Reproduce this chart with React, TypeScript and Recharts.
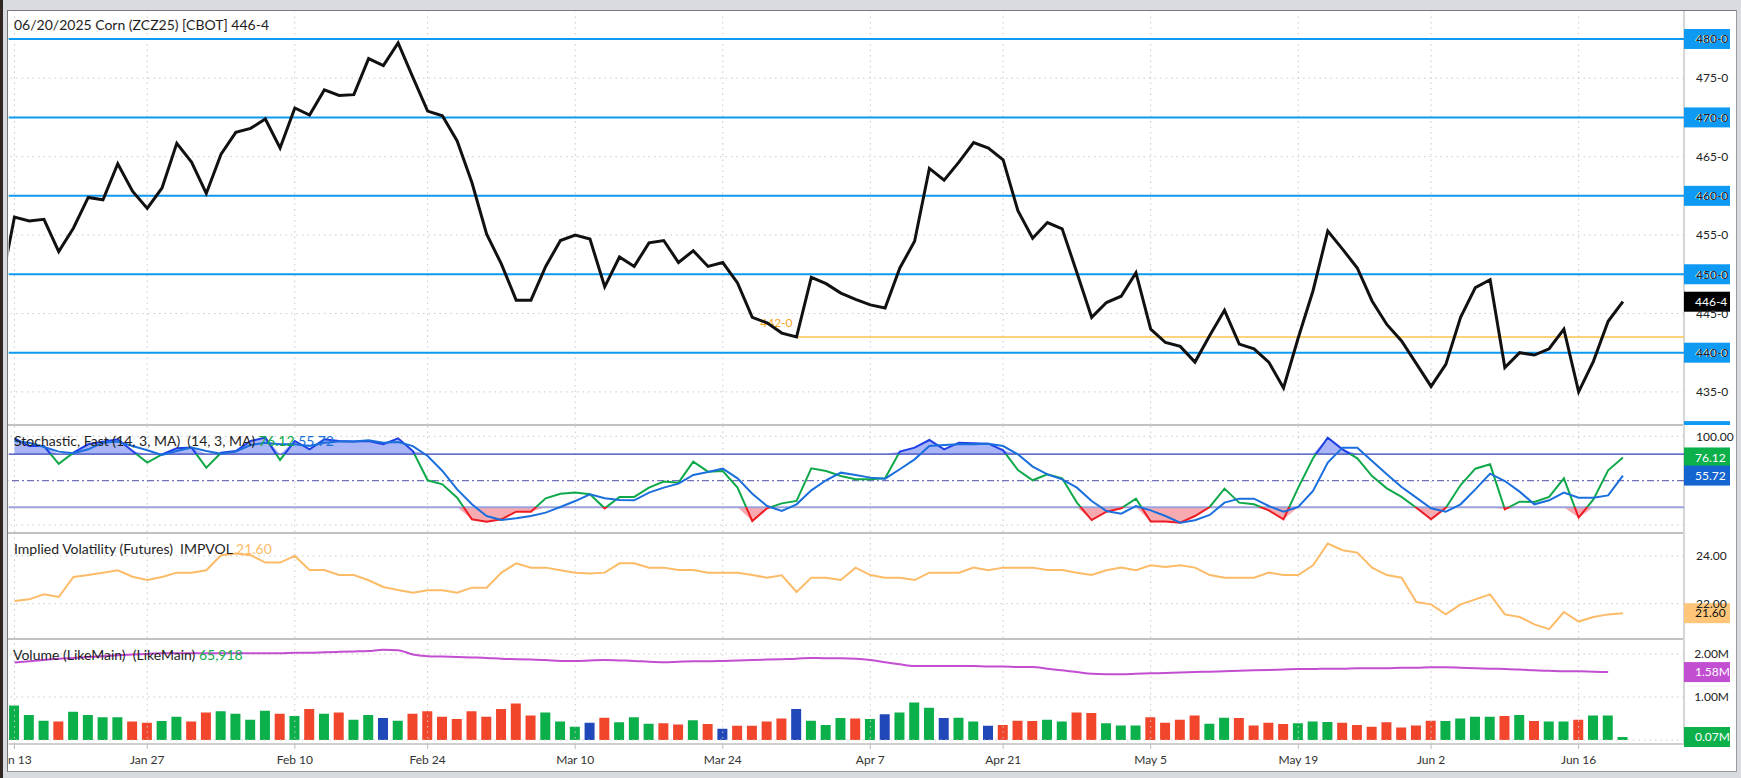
import React from 'react';
import { ComposedChart, Line, Area, Bar, Cell, XAxis, YAxis, ReferenceLine } from 'recharts';

// trading-day index of each date label on the time axis
const TICK_IDX = [0, 9, 19, 28, 38, 48, 58, 67, 77, 87, 96, 106];
const TICK_LABELS = ['Jan 13', 'Jan 27', 'Feb 10', 'Feb 24', 'Mar 10', 'Mar 24', 'Apr 7', 'Apr 21', 'May 5', 'May 19', 'Jun 2', 'Jun 16'];

// close of the session before the first visible day (line enters from the left edge)
const PREV_CLOSE = 447.6;

const CLOSE = [
  457.3, 456.8, 457.0, 452.9, 455.9, 459.8, 459.5, 464.1, 460.6, 458.4,
  461.0, 466.7, 464.3, 460.3, 465.3, 468.1, 468.6, 469.8, 466.1, 471.2,
  470.3, 473.5, 472.8, 472.9, 477.5, 476.6, 479.5, 475.1, 470.8, 470.2,
  467.0, 461.7, 455.1, 451.3, 446.7, 446.7, 451.0, 454.3, 455.0, 454.5,
  448.4, 452.2, 451.0, 454.0, 454.3, 451.5, 453.0, 451.0, 451.5, 448.9,
  444.5, 443.8, 442.5, 442.0, 449.6, 448.8, 447.6, 446.8, 446.1, 445.7,
  450.8, 454.2, 463.5, 462.0, 464.3, 466.8, 466.1, 464.6, 458.1, 454.6,
  456.6, 455.8, 450.2, 444.5, 446.4, 447.2, 450.2, 443.0, 441.3, 440.8,
  438.8, 442.2, 445.4, 441.1, 440.5, 438.8, 435.5, 441.9, 447.9, 455.5,
  453.2, 450.8, 446.6, 443.6, 441.5, 438.6, 435.7, 438.5, 444.5, 448.3,
  449.3, 438.1, 440.0, 439.7, 440.5, 443.0, 435.0, 438.9, 444.0, 446.5,
];

const STOCH_K = [
  97.7, 89, 89, 69, 81.5, 91, 94, 96.6, 83.4, 70.3,
  79.7, 86.4, 87.2, 64.6, 81.5, 83.4, 94.7, 98.5, 73.3, 94.7,
  85.3, 96.6, 94.7, 94, 94.7, 91, 97.7, 83.4, 50.4, 45.8,
  30.8, 6.4, 3.8, 6.4, 15, 15, 30, 35.3, 36.5, 34.6,
  18.8, 31.6, 31.6, 42.1, 48.9, 47.7, 71.4, 60.1, 60.9, 42.1,
  4.5, 18.8, 24.4, 27.1, 63.9, 60.9, 55.2, 51.5, 51.5, 52.6,
  82.7, 87.2, 95.8, 85.3, 92.8, 92.1, 91.7, 84.2, 62, 50.4,
  57.1, 52.6, 25.2, 5.6, 15, 18.8, 29.7, 3.8, 3.8, 2.6,
  10.1, 20.3, 41, 25.2, 23.3, 16.5, 6.4, 42.1, 75.2, 98.5,
  85.3, 75.2, 55.2, 41.3, 31.6, 19.5, 6.4, 19.5, 45.1, 63.5,
  68.4, 17.7, 26.3, 25.9, 31.6, 52.6, 8.3, 28.9, 61.6, 76.12,
];

const STOCH_D = [
  94.7, 92.8, 88, 82.7, 80.8, 85.3, 92.8, 94, 89, 84.2,
  78.9, 83.4, 87.2, 83.4, 80.4, 82.7, 90.2, 92.8, 91, 91,
  89, 92.8, 94, 94, 95.5, 92.8, 93.6, 89, 77.8, 60.9,
  40.2, 23.3, 10.1, 5.6, 7.5, 10.1, 13.9, 20.3, 27, 34.6,
  30.1, 28.2, 27.8, 36.5, 42.1, 46.6, 56.4, 59.8, 63.5, 52.6,
  35.3, 21.4, 15.8, 23.3, 39.1, 50.4, 59, 56.4, 53.4, 52.2,
  62.8, 74, 89, 90.2, 90.9, 90.9, 91.7, 89, 79.7, 65.8,
  57.1, 51.5, 42.1, 27.1, 15.8, 12.8, 21.4, 16.5, 10.1, 2.6,
  5.3, 11.3, 25.2, 29.7, 29.7, 21.4, 15, 20.3, 38.3, 70.3,
  87.2, 87.2, 72.2, 57.1, 42.8, 30.8, 18.8, 15, 23.3, 40.2,
  57.9, 49.6, 37.6, 23.3, 27.8, 36.5, 30.8, 30.8, 33.4, 55.72,
];

const IMPVOL = [
  22.11, 22.18, 22.39, 22.28, 23.12, 23.2, 23.3, 23.4, 23.13, 22.99,
  23.12, 23.3, 23.3, 23.4, 24.03, 24.1, 24.03, 23.72, 23.72, 24.0,
  23.41, 23.41, 23.2, 23.2, 22.98, 22.7, 22.57, 22.46, 22.56, 22.56,
  22.46, 22.67, 22.67, 23.3, 23.69, 23.51, 23.51, 23.4, 23.3, 23.26,
  23.3, 23.69, 23.69, 23.51, 23.51, 23.41, 23.41, 23.3, 23.3, 23.3,
  23.2, 23.09, 23.19, 22.49, 23.09, 23.09, 22.99, 23.51, 23.2, 23.09,
  23.09, 22.99, 23.3, 23.3, 23.3, 23.51, 23.4, 23.51, 23.51, 23.51,
  23.41, 23.41, 23.3, 23.2, 23.4, 23.51, 23.4, 23.61, 23.54, 23.61,
  23.51, 23.2, 23.09, 23.09, 23.09, 23.3, 23.2, 23.2, 23.61, 24.52,
  24.24, 24.14, 23.51, 23.2, 23.09, 22.07, 21.97, 21.55, 21.97, 22.18,
  22.39, 21.55, 21.44, 21.13, 20.93, 21.65, 21.25, 21.44, 21.55, 21.6,
];

// volume in millions
const VOLUME = [
  0.80, 0.58, 0.45, 0.43, 0.66, 0.58, 0.53, 0.53, 0.43, 0.40,
  0.44, 0.54, 0.43, 0.64, 0.67, 0.61, 0.47, 0.68, 0.61, 0.56,
  0.72, 0.61, 0.64, 0.47, 0.58, 0.51, 0.45, 0.61, 0.67, 0.54,
  0.49, 0.67, 0.54, 0.72, 0.85, 0.57, 0.64, 0.43, 0.31, 0.40,
  0.52, 0.41, 0.53, 0.38, 0.39, 0.36, 0.46, 0.37, 0.26, 0.33,
  0.33, 0.43, 0.50, 0.72, 0.45, 0.35, 0.51, 0.50, 0.49, 0.60,
  0.64, 0.87, 0.75, 0.51, 0.52, 0.43, 0.33, 0.35, 0.45, 0.44,
  0.47, 0.43, 0.64, 0.63, 0.39, 0.34, 0.34, 0.53, 0.40, 0.47,
  0.57, 0.38, 0.52, 0.51, 0.34, 0.40, 0.37, 0.39, 0.43, 0.42,
  0.40, 0.35, 0.31, 0.41, 0.29, 0.34, 0.45, 0.44, 0.50, 0.54,
  0.54, 0.56, 0.58, 0.44, 0.43, 0.43, 0.47, 0.57, 0.57, 0.07,
];

// g = up, r = down, b = unchanged
const VOLUME_TONE = (
  'gggrggggrr' + 'ggrrggggrg' + 'rgrggbgrrr' + 'rrrrrrgggb' + 'rgggrrgrbr' +
  'rrrbgggrgb' + 'gggbggbrrr' + 'ggrrgggrrr' + 'rggrrrrggg' + 'rrrrrrrggg' + 'grgrggrggg'
).split('');

const VOLUME_MA = [
  1.80, 1.83, 1.86, 1.89, 1.91, 1.93, 1.95, 1.97, 1.99, 2.00,
  2.02, 2.02, 2.02, 2.02, 2.02, 2.02, 2.02, 2.02, 2.02, 2.03,
  2.03, 2.04, 2.05, 2.06, 2.07, 2.10, 2.09, 1.99, 1.95, 1.94,
  1.93, 1.92, 1.91, 1.89, 1.88, 1.87, 1.86, 1.84, 1.84, 1.85,
  1.86, 1.85, 1.84, 1.82, 1.81, 1.82, 1.83, 1.83, 1.84, 1.85,
  1.86, 1.87, 1.88, 1.89, 1.91, 1.90, 1.90, 1.89, 1.86, 1.81,
  1.76, 1.72, 1.72, 1.72, 1.72, 1.72, 1.71, 1.71, 1.70, 1.70,
  1.66, 1.62, 1.58, 1.54, 1.53, 1.53, 1.54, 1.55, 1.56, 1.57,
  1.58, 1.59, 1.60, 1.61, 1.62, 1.63, 1.64, 1.65, 1.65, 1.66,
  1.66, 1.67, 1.67, 1.67, 1.68, 1.68, 1.69, 1.69, 1.68, 1.67,
  1.66, 1.65, 1.64, 1.62, 1.61, 1.60, 1.60, 1.59, 1.58, null,
];

const PRICE_LEVELS = [440, 450, 460, 470, 480];
const LOW_MARK = { idx: 53, value: 442 };

const TONE_FILL: Record<string, string> = { g: '#0bb04b', r: '#f1462c', b: '#2148b8' };
const BLUE = '#0e9af2';
const FONT = 'Lato, "Noto Sans", sans-serif';

const rows = CLOSE.map((close, i) => ({
  i,
  close,
  k: STOCH_K[i],
  d: STOCH_D[i],
  iv: IMPVOL[i],
  vol: VOLUME[i],
  volMa: VOLUME_MA[i],
  tone: VOLUME_TONE[i],
}));
const priceRows = [{ i: -1, close: PREV_CLOSE }, ...rows];

const kMax = Math.max(...STOCH_K);
const kMin = Math.min(...STOCH_K);
const off80 = (kMax - 80) / (kMax - kMin);
const off20 = (kMax - 20) / (kMax - kMin);

const X_DOMAIN: [number, number] = [-0.39, 113.14];
const MARGIN = { top: 0, right: 3, bottom: 0, left: 7.7 };
const W = 1741;

const Tag = ({ viewBox, text, bg, fg = '#fff' }: any) => {
  if (!viewBox) return null;
  const y = viewBox.y;
  return (
    <g>
      <rect x={1683} y={y - 10} width={46} height={20} fill={bg} />
      {text ? (
        <text x={1694} y={y} dy={4.3} fill={fg} fontSize={12} fontFamily={FONT}>{text}</text>
      ) : null}
    </g>
  );
};

const LowLabel = ({ viewBox }: any) => {
  if (!viewBox) return null;
  return (
    <text x={viewBox.x - 4} y={viewBox.y - 14} dy={4.3} textAnchor="end" fill="#f6a623" fontSize={12} fontFamily={FONT}>
      442-0
    </text>
  );
};

const rightTick = (fmt: (v: number) => string, anchorEnd = false) => (p: any) => (
  <text
    x={anchorEnd ? 1728 : 1695}
    y={p.y}
    dy={4.3}
    textAnchor={anchorEnd ? 'end' : 'start'}
    fill="#222"
    fontSize={12}
    fontFamily={FONT}
  >
    {fmt(p.payload.value)}
  </text>
);

const fmtPrice = (v: number) => `${Math.floor(v)}-${Math.round((v % 1) * 8)}`;

const dateGrid = TICK_IDX.map((t) => (
  <ReferenceLine key={`v${t}`} x={t} stroke="#c9c9c9" strokeDasharray="1.5 4" />
));

const hiddenX = <XAxis type="number" dataKey="i" domain={X_DOMAIN} allowDataOverflow hide />;

const pane = (top: number, height: number): React.CSSProperties => ({
  position: 'absolute',
  left: -7,
  top: top - 10,
  width: W,
  height,
});

export default function App() {
  return (
    <div style={{ position: 'absolute', left: 0, top: 0, width: W, height: 778, background: '#d8dbdf', overflow: 'hidden', fontFamily: FONT }}>
      <div style={{ position: 'absolute', left: 0, top: 0, width: 3, height: 778, background: '#2f2720' }} />
      <div style={{ position: 'absolute', left: 7, top: 10, width: 1730, height: 762, background: '#fff', overflow: 'hidden', borderLeft: '1px solid #777', borderTop: '1px solid #777', borderRight: '1px solid #999', borderBottom: '1px solid #999', boxSizing: 'border-box' }}>
        {/* pane separators and axis divider */}
        {[423, 531, 637].map((y) => (
          <div key={y} style={{ position: 'absolute', left: 0, top: y - 10, width: 1676, height: 2, background: '#c2c2c2' }} />
        ))}
        <div style={{ position: 'absolute', left: 1675, top: 0, width: 2, height: 733, background: '#d6d6d6' }} />

        {/* price */}
        <div style={pane(11, 413)}>
          <ComposedChart width={W} height={413} data={priceRows} margin={MARGIN}>
            {hiddenX}
            <YAxis
              orientation="right"
              width={55}
              domain={[430.78, 483.44]}
              allowDataOverflow
              ticks={[435, 440, 445, 450, 455, 460, 465, 470, 475, 480]}
              axisLine={false}
              tickLine={false}
              tick={rightTick(fmtPrice)}
            />
            {dateGrid}
            {[435, 445, 455, 465, 475].map((v) => (
              <ReferenceLine key={v} y={v} stroke="#c9c9c9" strokeDasharray="1.5 4" />
            ))}
            {/* edge of the 430-0 level tag, cut by the pane border */}
            <ReferenceLine y={430} stroke="none" ifOverflow="visible" label={<Tag text="" bg={BLUE} />} />
            {PRICE_LEVELS.map((v) => (
              <ReferenceLine key={`l${v}`} y={v} stroke={BLUE} strokeWidth={2} label={<Tag text={fmtPrice(v)} bg={BLUE} />} />
            ))}
            <ReferenceLine
              segment={[{ x: LOW_MARK.idx, y: LOW_MARK.value }, { x: X_DOMAIN[1], y: LOW_MARK.value }]}
              stroke="#fbc44e"
              strokeWidth={1.5}
              label={<LowLabel />}
            />
            <Line type="linear" dataKey="close" stroke="#111" strokeWidth={3} dot={false} isAnimationActive={false} />
            <ReferenceLine y={CLOSE[CLOSE.length - 1]} stroke="none" label={<Tag text="446-4" bg="#000" />} />
          </ComposedChart>
        </div>

        {/* stochastic */}
        <div style={pane(425, 106)}>
          <ComposedChart width={W} height={106} data={rows} margin={MARGIN}>
            <defs>
              <linearGradient id="kTone" x1="0" y1="0" x2="0" y2="1">
                <stop offset={0} stopColor="#1f3fe6" />
                <stop offset={off80} stopColor="#1f3fe6" />
                <stop offset={off80} stopColor="#10a94a" />
                <stop offset={off20} stopColor="#10a94a" />
                <stop offset={off20} stopColor="#ee1b24" />
                <stop offset={1} stopColor="#ee1b24" />
              </linearGradient>
            </defs>
            {hiddenX}
            <YAxis
              orientation="right"
              width={55}
              domain={[-7.9, 111.6]}
              allowDataOverflow
              ticks={[0, 100]}
              axisLine={false}
              tickLine={false}
              tick={rightTick((v) => v.toFixed(2))}
            />
            {dateGrid}
            <ReferenceLine y={0} stroke="#c9c9c9" strokeDasharray="1.5 4" />
            <ReferenceLine y={100} stroke="#c9c9c9" strokeDasharray="1.5 4" />
            <Area type="linear" dataKey={(r: any) => [80, Math.max(r.k, 80)]} stroke="none" fill="#aab5f7" fillOpacity={1} isAnimationActive={false} />
            <Area type="linear" dataKey={(r: any) => [Math.min(r.k, 20), 20]} stroke="none" fill="#f7abb0" fillOpacity={1} isAnimationActive={false} />
            <ReferenceLine y={80} stroke="#3242b6" strokeWidth={1.2} />
            <ReferenceLine y={50} stroke="#7272b8" strokeWidth={1.2} strokeDasharray="7 3 2 3" />
            <ReferenceLine y={20} stroke="#9da2dc" strokeWidth={2} />
            <Line type="linear" dataKey="k" stroke="url(#kTone)" strokeWidth={2} dot={false} isAnimationActive={false} />
            <Line type="linear" dataKey="d" stroke="#1a6fdc" strokeWidth={2} dot={false} isAnimationActive={false} />
            <ReferenceLine y={STOCH_K[STOCH_K.length - 1]} stroke="none" label={<Tag text="76.12" bg="#0bb04b" />} />
            <ReferenceLine y={STOCH_D[STOCH_D.length - 1]} stroke="none" label={<Tag text="55.72" bg="#1565d0" />} />
          </ComposedChart>
        </div>

        {/* implied volatility */}
        <div style={pane(533, 104)}>
          <ComposedChart width={W} height={104} data={rows} margin={MARGIN}>
            {hiddenX}
            <YAxis
              orientation="right"
              width={55}
              domain={[20.56, 24.92]}
              allowDataOverflow
              ticks={[22, 24]}
              axisLine={false}
              tickLine={false}
              tick={rightTick((v) => v.toFixed(2))}
            />
            {dateGrid}
            <ReferenceLine y={22} stroke="#c9c9c9" strokeDasharray="1.5 4" />
            <ReferenceLine y={24} stroke="#c9c9c9" strokeDasharray="1.5 4" />
            <Line type="linear" dataKey="iv" stroke="#fdbb68" strokeWidth={2} dot={false} isAnimationActive={false} />
            <ReferenceLine y={IMPVOL[IMPVOL.length - 1]} stroke="none" label={<Tag text="21.60" bg="#ffc67a" fg="#111" />} />
          </ComposedChart>
        </div>

        {/* volume */}
        <div style={pane(639, 134)}>
          <ComposedChart width={W} height={134} data={rows} margin={MARGIN}>
            <XAxis
              type="number"
              dataKey="i"
              domain={X_DOMAIN}
              allowDataOverflow
              ticks={TICK_IDX}
              interval={0}
              tickFormatter={(v: number) => TICK_LABELS[TICK_IDX.indexOf(v)]}
              height={30}
              axisLine={{ stroke: '#cfcfcf', strokeWidth: 2 }}
              tickLine={{ stroke: '#bdbdbd' }}
              tickSize={5}
              tickMargin={6}
              tick={{ fontSize: 12, fill: '#333', fontFamily: FONT }}
            />
            <YAxis
              orientation="right"
              width={55}
              domain={[-0.093, 2.326]}
              allowDataOverflow
              ticks={[1, 2]}
              axisLine={false}
              tickLine={false}
              tick={rightTick((v) => `${v.toFixed(2)}M`, true)}
            />
            {dateGrid}
            {[0, 1, 2].map((v) => (
              <ReferenceLine key={v} y={v} stroke="#c9c9c9" strokeDasharray="1.5 4" />
            ))}
            <Bar dataKey="vol" barSize={10} isAnimationActive={false}>
              {rows.map((r) => (
                <Cell key={r.i} fill={TONE_FILL[r.tone]} />
              ))}
            </Bar>
            <Line type="monotone" dataKey="volMa" stroke="#c24fd2" strokeWidth={2} dot={false} isAnimationActive={false} connectNulls={false} />
            <ReferenceLine y={1.58} stroke="none" label={<Tag text="1.58M" bg="#c24fd2" />} />
            <ReferenceLine y={VOLUME[VOLUME.length - 1]} stroke="none" label={<Tag text="0.07M" bg="#0bb04b" />} />
          </ComposedChart>
        </div>

        {/* pane titles */}
        <div style={{ position: 'absolute', left: 6, top: 5, fontSize: 14, lineHeight: '17px', color: '#1e1e1e', whiteSpace: 'pre' }}>
          06/20/2025 Corn (ZCZ25) [CBOT] 446-4
        </div>
        <div style={{ position: 'absolute', left: 6, top: 421, fontSize: 14, lineHeight: '17px', color: '#1e1e1e', whiteSpace: 'pre' }}>
          {'Stochastic, Fast (14, 3, MA)  (14, 3, MA) '}
          <span style={{ color: '#10a94a' }}>76.12</span> <span style={{ color: '#1a6fdc' }}>55.72</span>
        </div>
        <div style={{ position: 'absolute', left: 6, top: 529, fontSize: 14, lineHeight: '17px', color: '#1e1e1e', whiteSpace: 'pre' }}>
          {'Implied Volatility (Futures)  IMPVOL '}
          <span style={{ color: '#fdbb68' }}>21.60</span>
        </div>
        <div style={{ position: 'absolute', left: 5, top: 635, fontSize: 14, lineHeight: '17px', color: '#1e1e1e', whiteSpace: 'pre' }}>
          {'Volume (LikeMain)  (LikeMain) '}
          <span style={{ color: '#10a94a' }}>65,918</span>
        </div>
      </div>
    </div>
  );
}
